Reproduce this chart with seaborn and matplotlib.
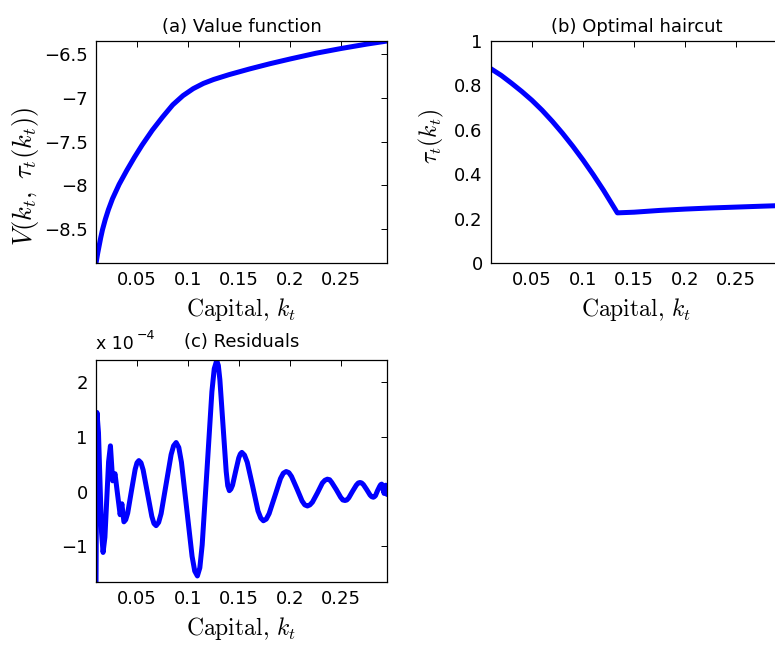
"""Value function, optimal haircut and residuals over capital k_t."""
import matplotlib

matplotlib.use("Agg")
import matplotlib.pyplot as plt
import pandas as pd
import seaborn as sns

# capital grid limits (axis tight, as in the original)
K_LIM = (0.0099, 0.2947)
x_ticks = [0.05, 0.10, 0.15, 0.20, 0.25]
x_tick_labels = ["0.05", "0.1", "0.15", "0.2", "0.25"]

# (a) value function V(k_t, tau_t(k_t))
value_k = [0.0099, 0.0105, 0.0115, 0.013, 0.0145, 0.0162, 0.019, 0.022, 0.026, 0.0325,
           0.040, 0.0475, 0.055, 0.065, 0.075, 0.085, 0.095, 0.105, 0.115, 0.125,
           0.140, 0.160, 0.180, 0.200, 0.225, 0.250, 0.275, 0.2947]
value_v = [-8.89, -8.85, -8.78, -8.69, -8.60, -8.51, -8.39, -8.28, -8.155, -7.99,
           -7.83, -7.68, -7.54, -7.37, -7.22, -7.08, -6.975, -6.895, -6.835, -6.79,
           -6.735, -6.67, -6.61, -6.555, -6.49, -6.435, -6.385, -6.35]
value_ticks = [-8.5, -8.0, -7.5, -7.0, -6.5]
value_tick_labels = ["\u22128.5", "\u22128", "\u22127.5", "\u22127", "\u22126.5"]

# (b) optimal haircut tau_t(k_t)
haircut_k = [0.0099, 0.020, 0.030, 0.040, 0.050, 0.060, 0.070, 0.080, 0.090, 0.100,
             0.110, 0.120, 0.1336, 0.150, 0.175, 0.200, 0.225, 0.250, 0.275, 0.2947]
haircut_v = [0.875, 0.845, 0.810, 0.773, 0.733, 0.688, 0.638, 0.584, 0.526, 0.464,
             0.398, 0.328, 0.226, 0.229, 0.237, 0.243, 0.248, 0.252, 0.256, 0.259]
haircut_ticks = [0, 0.2, 0.4, 0.6, 0.8, 1.0]
haircut_tick_labels = ["0", "0.2", "0.4", "0.6", "0.8", "1"]

# (c) Euler residuals, in units of 1e-4
resid_k = [0.0099, 0.0108, 0.0123, 0.0138, 0.0153, 0.0168, 0.0186, 0.0204, 0.0222, 0.0240,
           0.0251, 0.0262, 0.0285, 0.0310, 0.0335, 0.0352, 0.0372,
           0.0390, 0.0409, 0.0445, 0.0482, 0.0500, 0.0518,
           0.0539, 0.0560, 0.0603, 0.0645, 0.0666, 0.0687,
           0.0712, 0.0736, 0.0785, 0.0834, 0.0858, 0.0883,
           0.0909, 0.0935, 0.0987, 0.1039, 0.1065, 0.1091,
           0.1115, 0.1138, 0.1186, 0.1233, 0.1256, 0.1280,
           0.1296, 0.1311, 0.1342, 0.1373, 0.1388, 0.1404,
           0.1419, 0.1435, 0.1465, 0.1496, 0.1511, 0.1526,
           0.1552, 0.1579, 0.1632, 0.1684, 0.1711, 0.1737,
           0.1765, 0.1793, 0.1849, 0.1904, 0.1932, 0.1960,
           0.1986, 0.2012, 0.2064, 0.2116, 0.2142, 0.2168,
           0.2192, 0.2217, 0.2266, 0.2314, 0.2339, 0.2363,
           0.2385, 0.2406, 0.2450, 0.2493, 0.2514, 0.2536,
           0.2554, 0.2573, 0.2610, 0.2646, 0.2665, 0.2683,
           0.2699, 0.2716, 0.2748, 0.2781, 0.2797, 0.2813,
           0.2823, 0.2834, 0.2854, 0.2875, 0.2885, 0.2895,
           0.2918, 0.2935, 0.2947]
resid_v = [-1.65, 1.45, 1.08, 0.17, -0.74, -1.11, -0.83, -0.14, 0.55, 0.84,
           0.52, 0.20, 0.33, -0.05, -0.42, -0.22, -0.55,
           -0.51, -0.39, 0.01, 0.41, 0.53, 0.57,
           0.53, 0.40, -0.03, -0.45, -0.58, -0.62,
           -0.56, -0.40, 0.14, 0.68, 0.84, 0.90,
           0.81, 0.54, -0.32, -1.18, -1.45, -1.54,
           -1.39, -0.97, 0.43, 1.83, 2.25, 2.40,
           2.31, 2.05, 1.21, 0.37, 0.11, 0.02,
           0.05, 0.12, 0.37, 0.62, 0.69, 0.72,
           0.67, 0.54, 0.10, -0.35, -0.48, -0.53,
           -0.50, -0.40, -0.08, 0.24, 0.34, 0.37,
           0.35, 0.28, 0.06, -0.17, -0.24, -0.26,
           -0.24, -0.19, -0.02, 0.16, 0.21, 0.23,
           0.22, 0.17, 0.04, -0.10, -0.15, -0.16,
           -0.15, -0.11, 0.01, 0.12, 0.16, 0.17,
           0.16, 0.13, 0.04, -0.06, -0.09, -0.10,
           -0.09, -0.07, 0.02, 0.10, 0.13, 0.14,
           -0.03, 0.12, -0.05]
resid_ticks = [-1, 0, 1, 2]
resid_tick_labels = ["\u22121", "0", "1", "2"]
RESID_LIM = (-1.65, 2.41)

LINE = dict(color="#0000ff", linewidth=3.6, solid_joinstyle="round", solid_capstyle="round")
SANS = ["DejaVu Sans"]
XLABEL = "Capital, $k_t$"


def style_axes(ax):
    ax.tick_params(direction="in", top=True, right=True, length=4, width=0.7,
                   labelsize=13, pad=6, colors="black")
    for sp in ax.spines.values():
        sp.set_linewidth(0.9)
        sp.set_color("black")
    ax.set_xlim(*K_LIM)
    ax.set_xticks(x_ticks, x_tick_labels)
    ax.set_xlabel(XLABEL, fontsize=17, fontfamily="cmr10", labelpad=5)


def main():
    sns.set_theme(style="white")
    plt.rcParams["font.family"] = SANS
    plt.rcParams["mathtext.fontset"] = "cm"
    plt.rcParams["text.color"] = "black"
    plt.rcParams["axes.labelcolor"] = "black"

    fig = plt.figure(figsize=(7.75, 6.45), dpi=100)
    ax_a = fig.add_axes([0.1239, 0.5922, 0.3755, 0.3442])
    ax_b = fig.add_axes([0.6335, 0.5922, 0.3755, 0.3442])
    ax_c = fig.add_axes([0.1239, 0.0977, 0.3755, 0.3442])

    df_a = pd.DataFrame({"k": value_k, "v": value_v})
    sns.lineplot(data=df_a, x="k", y="v", ax=ax_a, **LINE)
    style_axes(ax_a)
    ax_a.set_ylim(-8.89, -6.35)
    ax_a.set_yticks(value_ticks, value_tick_labels)
    ax_a.set_title("(a) Value function", fontsize=13, pad=6.5, color="black")
    ax_a.set_ylabel(r"$V(k_t,\ \tau_t(k_t))$", fontsize=19)
    ax_a.yaxis.set_label_coords(-0.19, 0.39)

    df_b = pd.DataFrame({"k": haircut_k, "tau": haircut_v})
    sns.lineplot(data=df_b, x="k", y="tau", ax=ax_b, **LINE)
    style_axes(ax_b)
    ax_b.set_ylim(0, 1)
    ax_b.set_yticks(haircut_ticks, haircut_tick_labels)
    ax_b.set_title("(b) Optimal haircut", fontsize=13, pad=6.5, color="black")
    ax_b.set_ylabel(r"$\tau_t(k_t)$", fontsize=17)
    ax_b.yaxis.set_label_coords(-0.155, 0.57)

    df_c = pd.DataFrame({"k": resid_k, "r": resid_v})
    sns.lineplot(data=df_c, x="k", y="r", ax=ax_c, **LINE)
    style_axes(ax_c)
    ax_c.set_ylim(*RESID_LIM)
    ax_c.set_yticks(resid_ticks, resid_tick_labels)
    ax_c.set_ylabel("")
    ax_c.set_title("(c) Residuals", fontsize=13, pad=9, color="black")
    ax_c.annotate("x 10", xy=(0, 1), xycoords="axes fraction", xytext=(0, 8),
                  textcoords="offset points", ha="left", va="baseline", fontsize=12.5)
    ax_c.annotate("\u22124", xy=(0, 1), xycoords="axes fraction", xytext=(29, 15),
                  textcoords="offset points", ha="left", va="baseline", fontsize=9)

    fig.savefig("out.png", dpi=100)
    plt.close(fig)


if __name__ == "__main__":
    main()
